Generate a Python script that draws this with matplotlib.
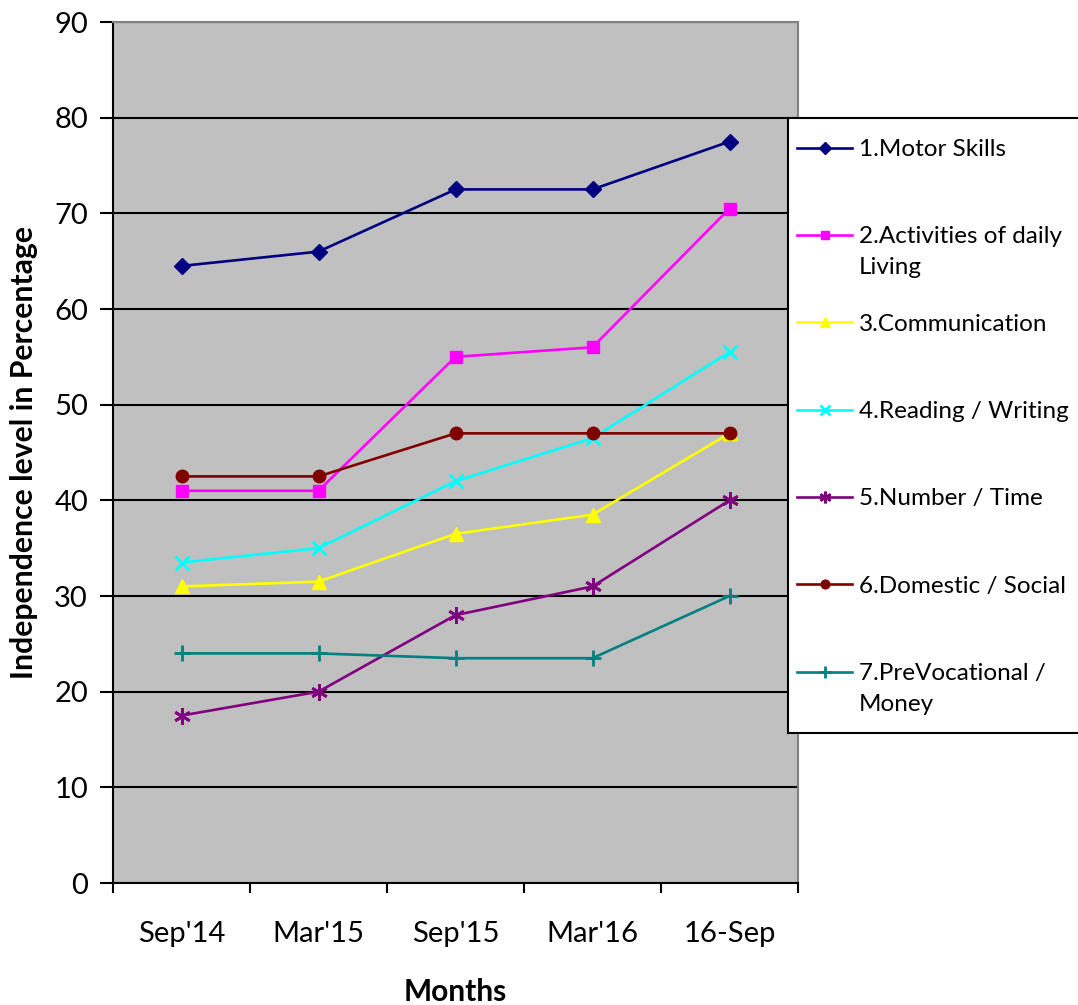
import matplotlib
matplotlib.use("Agg")
import matplotlib.pyplot as plt
from matplotlib.patches import Rectangle
from matplotlib.text import Annotation
from matplotlib.ticker import FixedLocator, MultipleLocator

months = ["Sep'14", "Mar'15", "Sep'15", "Mar'16", "16-Sep"]
motor = [64.5, 66, 72.5, 72.5, 77.5]
daily_living = [41, 41, 55, 56, 70.5]
communication = [31, 31.5, 36.5, 38.5, 47]
reading_writing = [33.5, 35, 42, 46.5, 55.5]
number_time = [17.5, 20, 28, 31, 40]
domestic_social = [42.5, 42.5, 47, 47, 47]
prevocational = [24, 24, 23.5, 23.5, 30]

series_labels = ["1.Motor Skills", "2.Activities of daily", "3.Communication",
                 "4.Reading / Writing", "5.Number / Time", "6.Domestic / Social",
                 "7.PreVocational /"]
second_lines = {1: "Living", 6: "Money"}

FONT = "Lato"
plt.rcParams["font.family"] = [FONT, "DejaVu Sans"]
PX = 0.72  # points per pixel at dpi 100

fig = plt.figure(figsize=(10.78, 10.05), dpi=100)
ax = fig.add_axes([113/1078, 1-883/1005, 685/1078, 861/1005])
ax.set_facecolor("#C0C0C0")

x = list(range(len(months)))
styles = [
    (motor, "#000080", "D", 8.5, 1.0),
    (daily_living, "#FF00FF", "s", 9, 1.0),
    (communication, "#FFFF00", "^", 9.5, 1.0),
    (reading_writing, "#00FFFF", "x", 10, 2.0),
    (number_time, "#800080", (6, 2, 0), 12, 2.0),
    (domestic_social, "#800000", "o", 9, 1.0),
    (prevocational, "#008080", "+", 12, 2.0),
]
handles = []
for (vals, col, mk, ms, mew), lab in zip(styles, series_labels):
    h, = ax.plot(x, vals, color=col, marker=mk, markersize=ms, markeredgewidth=mew,
                 markerfacecolor=col, markeredgecolor=col, linewidth=1.9, label=lab,
                 clip_on=False, zorder=3)
    handles.append(h)

ax.set_xlim(-0.5, len(months) - 0.5)
ax.set_ylim(0, 90)
ax.yaxis.set_major_locator(MultipleLocator(10))
ax.yaxis.grid(True, color="black", linewidth=1.5)
ax.set_axisbelow(True)

ax.set_xticks(x)
ax.set_xticklabels(months)
ax.xaxis.set_minor_locator(FixedLocator([i - 0.5 for i in range(len(months) + 1)]))
ax.tick_params(axis="x", which="major", length=0, pad=27, labelsize=21)
ax.tick_params(axis="x", which="minor", length=10*PX, width=1.5, direction="out")
ax.tick_params(axis="y", which="major", length=13*PX, width=1.5, direction="out",
               pad=12*PX, labelsize=21)

for side in ["top", "right"]:
    ax.spines[side].set_color("#808080")
    ax.spines[side].set_linewidth(1.5)
for side in ["left", "bottom"]:
    ax.spines[side].set_color("black")
    ax.spines[side].set_linewidth(1.5)

ax.set_xlabel("Months", fontsize=21.5, fontweight="bold")
ax.xaxis.set_label_coords(0.5, -0.110)
ax.set_ylabel("Independence level in Percentage", fontsize=21.7, fontweight="bold")
ax.yaxis.set_label_coords(-0.110, 0.5)

# legend frame
fig.add_artist(Rectangle((788/1078, 1-733/1005), 0.3, (733-118)/1005,
                         transform=fig.transFigure, facecolor="white",
                         edgecolor="black", linewidth=1.5, zorder=4))
LFS = 17.5
lfs_px = LFS / PX
leg = fig.legend(handles=handles, loc="upper left",
                 bbox_to_anchor=(788/1078, 1-130/1005), frameon=False,
                 fontsize=LFS, handlelength=55/lfs_px, handletextpad=7/lfs_px,
                 labelspacing=2.73, borderpad=9/lfs_px, borderaxespad=0,
                 markerscale=0.7)
leg.set_zorder(5)
for idx, txt in second_lines.items():
    ann = Annotation(txt, xy=(0, 0), xycoords=leg.texts[idx], xytext=(0, -27),
                     textcoords="offset pixels", ha="left", va="baseline",
                     fontsize=LFS)
    ann.set_zorder(10)
    fig.add_artist(ann)

fig.savefig("out.png", dpi=100)
